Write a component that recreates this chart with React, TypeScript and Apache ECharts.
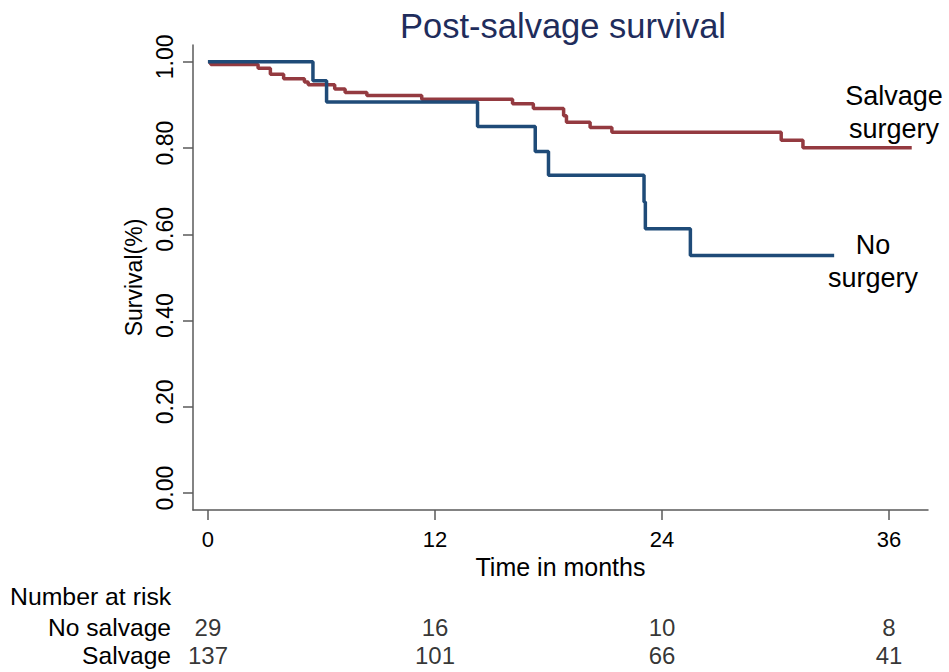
import React, { useEffect, useRef } from "react";
import * as echarts from "echarts";

const TITLE = "Post-salvage survival";
const X_TICKS = [0, 12, 24, 36];
const Y_TICKS = [0, 0.2, 0.4, 0.6, 0.8, 1.0];

// Kaplan-Meier step points [month, survival]
const NO_SURGERY: [number, number][] = [
  [0, 1.0], [5.55, 0.956], [6.27, 0.907], [14.25, 0.85], [17.3, 0.792],
  [18.0, 0.737], [23.05, 0.675], [23.12, 0.613], [25.5, 0.551], [33.1, 0.551],
];
const SALVAGE_SURGERY: [number, number][] = [
  [0, 1.0], [0.15, 0.994], [2.65, 0.985], [3.3, 0.971], [4.0, 0.961],
  [5.1, 0.953], [5.3, 0.947], [6.7, 0.937], [7.25, 0.929], [8.4, 0.922],
  [11.3, 0.913], [16.1, 0.903], [17.2, 0.892], [18.8, 0.875], [18.95, 0.86],
  [20.2, 0.848], [21.35, 0.837], [30.3, 0.818], [31.45, 0.801], [37.2, 0.801],
];

const RISK_GROUPS = ["No salvage", "Salvage"];
const RISK_TIMES = [0, 12, 24, 36];
const RISK_NO_SALVAGE = [29, 16, 10, 8];
const RISK_SALVAGE = [137, 101, 66, 41];

const FONT = "Liberation Sans, Arial, sans-serif";
const NARROW = "Liberation Sans Narrow, Arial Narrow, Liberation Sans, sans-serif";
const RED = "#943a40";
const BLUE = "#1f4b78";
const AXIS = "#5a5a5a";

export default function App() {
  const ref = useRef<HTMLDivElement>(null);
  useEffect(() => {
    if (!ref.current) return;
    const chart = echarts.init(ref.current, undefined, { renderer: "svg" });
    const riskData: any[] = [];
    RISK_TIMES.forEach((t, i) => {
      riskData.push([t, RISK_GROUPS[0], RISK_NO_SALVAGE[i]]);
      riskData.push([t, RISK_GROUPS[1], RISK_SALVAGE[i]]);
    });
    const xMin = -0.79;
    const xMax = 38.06;
    chart.setOption({
      animation: false,
      backgroundColor: "#ffffff",
      textStyle: { fontFamily: FONT },
      title: {
        text: TITLE,
        left: 558,
        textAlign: "center",
        top: 3,
        textStyle: { color: "#1f2d5c", fontSize: 34.5, fontWeight: "normal", fontFamily: FONT },
      },
      grid: [
        { left: 193, right: 21, top: 45, bottom: 162, containLabel: false },
        { left: 193, right: 21, top: 613, height: 56, containLabel: false },
      ],
      xAxis: [
        {
          type: "value",
          gridIndex: 0,
          min: xMin,
          max: xMax,
          name: "Time in months",
          nameLocation: "middle",
          nameGap: 39,
          nameTextStyle: { color: "#000", fontSize: 25, fontFamily: FONT },
          splitLine: { show: false },
          axisLine: { show: true, onZero: false, lineStyle: { color: AXIS, width: 1.5 } },
          axisTick: { show: true, length: 10, customValues: X_TICKS, lineStyle: { color: AXIS, width: 1.5 } },
          axisLabel: { customValues: X_TICKS, color: "#000", fontSize: 22, margin: 18, fontFamily: FONT },
        },
        {
          type: "value",
          gridIndex: 1,
          min: xMin,
          max: xMax,
          show: false,
        },
      ],
      yAxis: [
        {
          type: "value",
          gridIndex: 0,
          min: -0.039,
          max: 1.039,
          name: "Survival(%)",
          nameLocation: "middle",
          nameRotate: 90,
          nameGap: 42,
          nameTextStyle: { color: "#000", fontSize: 23, fontFamily: NARROW },
          splitLine: { show: false },
          axisLine: { show: true, onZero: false, lineStyle: { color: AXIS, width: 1.5 } },
          axisTick: { show: true, length: 10, customValues: Y_TICKS, lineStyle: { color: AXIS, width: 1.5 } },
          axisLabel: {
            customValues: Y_TICKS,
            rotate: 90,
            color: "#000",
            fontSize: 23,
            margin: 17,
            fontFamily: NARROW,
            padding: [0, 0, 0, 10],
            formatter: (v: number) => v.toFixed(2),
          },
        },
        {
          type: "category",
          gridIndex: 1,
          data: RISK_GROUPS,
          inverse: true,
          axisLine: { show: false },
          axisTick: { show: false },
          splitLine: { show: false },
          axisLabel: { color: "#000", fontSize: 24.6, margin: 22, interval: 0, fontFamily: FONT },
        },
      ],
      graphic: [
        {
          type: "text",
          left: 10,
          top: 584,
          style: { text: "Number at risk", fill: "#000", font: `24.8px ${FONT}` },
        },
        {
          type: "text",
          x: 894,
          y: 96,
          style: { text: "Salvage", fill: "#000", font: `27px ${FONT}`, align: "center", verticalAlign: "middle" },
        },
        {
          type: "text",
          x: 894,
          y: 129,
          style: { text: "surgery", fill: "#000", font: `27px ${FONT}`, align: "center", verticalAlign: "middle" },
        },
        {
          type: "text",
          x: 873,
          y: 245,
          style: { text: "No", fill: "#000", font: `27px ${FONT}`, align: "center", verticalAlign: "middle" },
        },
        {
          type: "text",
          x: 873,
          y: 278,
          style: { text: "surgery", fill: "#000", font: `27px ${FONT}`, align: "center", verticalAlign: "middle" },
        },
      ],
      series: [
        {
          name: "Salvage surgery",
          type: "line",
          step: "end",
          xAxisIndex: 0,
          yAxisIndex: 0,
          data: SALVAGE_SURGERY,
          showSymbol: false,
          symbol: "none",
          lineStyle: { color: RED, width: 3.5 },
        },
        {
          name: "No surgery",
          type: "line",
          step: "end",
          xAxisIndex: 0,
          yAxisIndex: 0,
          data: NO_SURGERY,
          showSymbol: false,
          symbol: "none",
          lineStyle: { color: BLUE, width: 3.5 },
        },
        {
          name: "At risk",
          type: "scatter",
          xAxisIndex: 1,
          yAxisIndex: 1,
          data: riskData,
          symbolSize: 0,
          label: {
            show: true,
            position: "inside",
            color: "#000",
            fontSize: 24,
            fontFamily: FONT,
            formatter: (p: any) => String(p.value[2]),
          },
        },
      ],
    });
    return () => chart.dispose();
  }, []);
  return (
    <div
      ref={ref}
      style={{ position: "fixed", left: 0, top: 0, width: 949, height: 672, background: "#fff" }}
    />
  );
}
